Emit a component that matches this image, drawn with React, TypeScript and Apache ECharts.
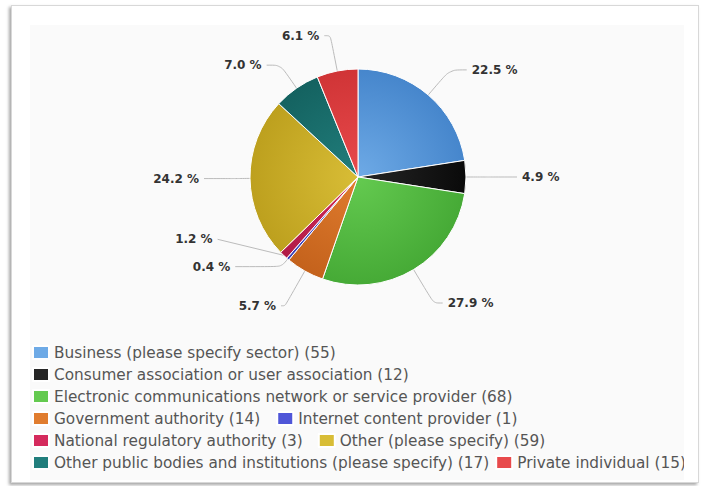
import React, { useEffect, useRef } from "react";
import * as echarts from "echarts";

const categories = [
  "Business (please specify sector)",
  "Consumer association or user association",
  "Electronic communications network or service provider",
  "Government authority",
  "Internet content provider",
  "National regulatory authority",
  "Other (please specify)",
  "Other public bodies and institutions (please specify)",
  "Private individual",
];
const counts = [55, 12, 68, 14, 1, 3, 59, 17, 15];
const colors = [
  "#6eaae6",
  "#262626",
  "#64ca50",
  "#e07c2e",
  "#4f56d8",
  "#d42a5c",
  "#d8bd36",
  "#217e7c",
  "#e84a4c",
];
const edgeColors = [
  "#4686cc",
  "#0a0a0a",
  "#46aa36",
  "#c4621c",
  "#3840b8",
  "#b01a46",
  "#bda01e",
  "#146260",
  "#d03436",
];
// per-slice label line lengths (radial part, horizontal part)
const lineLen = [33, 18, 39, 40, 10, 0, 14, 28, 36];
const lineLen2 = [17, 33, 9, 4, 46, 66, 32, 14, 6];
const labelShiftY = [0, 0, 0, 0, 0, -16, 0, 0, 0];
const legendRows = [[0], [1], [2], [3, 4], [5, 6], [7, 8]];
const legendGaps = [16, 16, 16, 16, 15, 6];

const CX = 346;
const CY = 171;
const R = 108;

export default function App() {
  const ref = useRef<HTMLDivElement>(null);
  useEffect(() => {
    if (!ref.current) return;
    const chart = echarts.init(ref.current, null, { renderer: "svg" });
    const total = counts.reduce((a, b) => a + b, 0);
    const font = "'DejaVu Sans', Verdana, sans-serif";
    const legends = legendRows.map((row, i) => ({
      orient: "horizontal",
      left: 20,
      top: 339 + i * 22,
      itemWidth: 16,
      itemHeight: 13,
      itemGap: legendGaps[i],
      icon: "rect",
      selectedMode: false,
      padding: 0,
      textStyle: { fontFamily: font, fontSize: 15.3, color: "#555" },
      formatter: (name: string) => {
        const idx = categories.indexOf(name);
        return `${name} (${counts[idx]})`;
      },
      data: row.map((k) => ({
        name: categories[k],
        itemStyle: { color: colors[k] },
      })),
    }));
    chart.setOption({
      animation: false,
      backgroundColor: "transparent",
      graphic: [
        {
          type: "rect",
          silent: true,
          z: -10,
          shape: { x: 18, y: 19, width: 660, height: 455 },
          style: { fill: "#fafafa" },
        },
      ],
      legend: legends,
      series: [
        {
          type: "pie",
          center: [CX, CY],
          radius: R,
          startAngle: 90,
          clockwise: true,
          avoidLabelOverlap: false,
          itemStyle: { borderColor: "#ffffff", borderWidth: 1 },
          label: {
            show: true,
            position: "outside",
            fontFamily: font,
            fontSize: 12,
            fontWeight: "bold",
            color: "#333",
            formatter: (p: any) => `${((p.value / total) * 100).toFixed(1)} %`,
          },
          labelLine: {
            show: true,
            smooth: 0.3,
            lineStyle: { color: "#bbbbbb", width: 1 },
          },
          labelLayout: (p: any) => {
            const dy = labelShiftY[p.dataIndex];
            if (!dy || !p.labelLinePoints) return {};
            const pts = p.labelLinePoints.map((pt: number[]) => [pt[0], pt[1]]);
            pts[pts.length - 1][1] += dy;
            return { dy, labelLinePoints: pts };
          },
          emphasis: { disabled: true },
          data: categories.map((name, i) => ({
            name,
            value: counts[i],
            labelLine: { length: lineLen[i], length2: lineLen2[i] },
            itemStyle: {
              color: {
                type: "radial",
                x: CX,
                y: CY,
                r: R,
                global: true,
                colorStops: [
                  { offset: 0, color: colors[i] },
                  { offset: 1, color: edgeColors[i] },
                ],
              },
            },
          })),
        },
      ],
    });
    return () => chart.dispose();
  }, []);

  return (
    <div
      style={{
        position: "fixed",
        left: 0,
        top: 0,
        width: 701,
        height: 486,
        background: "#ffffff",
        overflow: "hidden",
      }}
    >
      <div
        style={{
          position: "absolute",
          left: 11,
          top: 5,
          width: 686,
          height: 476,
          border: "1px solid #d8d8d8",
          boxShadow: "-2px 2px 3px rgba(0,0,0,0.35)",
          background: "#ffffff",
        }}
      />
      <div
        style={{
          position: "absolute",
          left: 12,
          top: 6,
          width: 672,
          height: 474,
          overflow: "hidden",
        }}
      >
        <div ref={ref} style={{ width: 760, height: 474 }} />
      </div>
    </div>
  );
}
